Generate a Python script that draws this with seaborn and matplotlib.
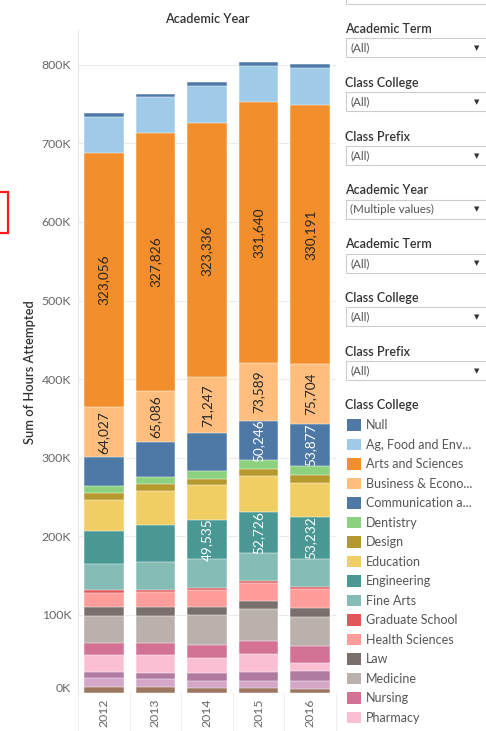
import numpy as np
import pandas as pd
import matplotlib
matplotlib.use("Agg")
import matplotlib.pyplot as plt
from matplotlib.patches import Rectangle
from matplotlib.transforms import ScaledTranslation
import seaborn as sns

# ---------------- data ----------------
years = ["2012", "2013", "2014", "2015", "2016"]

colleges = ["Null", "Ag, Food and Env...", "Arts and Sciences", "Business & Econo...",
            "Communication a...", "Dentistry", "Design", "Education", "Engineering",
            "Fine Arts", "Graduate School", "Health Sciences", "Law", "Medicine",
            "Nursing", "Pharmacy", "Public Health", "Social Work", "Undergraduate Ed..."]

colors = ["#4e79a7", "#a0cbe8", "#f28e2b", "#ffbe7d", "#4e79a7", "#8cd17d", "#b6992d",
          "#f1ce63", "#499894", "#86bcb6", "#e15759", "#ff9d9a", "#79706e", "#bab0ac",
          "#d37295", "#fabfd2", "#b07aa1", "#d4a6c8", "#9d7660"]

null_h = [4300, 3800, 4300, 5100, 5100]
ag_h = [46600, 45800, 47800, 46700, 46700]
arts_h = [323056, 327826, 323336, 331640, 330191]
business_h = [64027, 65086, 71247, 73589, 75704]
communication_h = [36100, 44500, 47500, 50246, 53877]
dentistry_h = [9300, 9700, 11100, 11100, 11500]
design_h = [8900, 8900, 7100, 8500, 9700]
education_h = [39500, 43300, 44500, 45800, 43300]
engineering_h = [41400, 46100, 49535, 52726, 53232]
fine_arts_h = [33700, 36300, 37300, 35600, 36000]
graduate_h = [3400, 2500, 2500, 2200, 2500]
health_h = [17800, 18700, 21300, 22900, 23800]
law_h = [11800, 11800, 10900, 10900, 11800]
medicine_h = [34000, 34000, 37400, 40000, 37300]
nursing_h = [16000, 16000, 16900, 17300, 21300]
pharmacy_h = [21300, 22100, 18700, 22500, 10600]
public_health_h = [7600, 8400, 10200, 11100, 12000]
social_work_h = [11100, 10200, 9700, 9700, 10900]
undergrad_h = [8500, 7800, 6500, 6500, 5200]

series = [null_h, ag_h, arts_h, business_h, communication_h, dentistry_h, design_h,
          education_h, engineering_h, fine_arts_h, graduate_h, health_h, law_h,
          medicine_h, nursing_h, pharmacy_h, public_health_h, social_work_h, undergrad_h]

# which segments carry a value label (college -> years)
labeled = {
    "Arts and Sciences": ["2012", "2013", "2014", "2015", "2016"],
    "Business & Econo...": ["2012", "2013", "2014", "2015", "2016"],
    "Engineering": ["2014", "2015", "2016"],
    "Communication a...": ["2015", "2016"],
}
label_colors = {"Arts and Sciences": "#262626", "Business & Econo...": "#262626",
                "Engineering": "white", "Communication a...": "white"}

y_ticks = [0, 100000, 200000, 300000, 400000, 500000, 600000, 700000, 800000]
y_tick_labels = ["0K", "100K", "200K", "300K", "400K", "500K", "600K", "700K", "800K"]

filters = [("Academic Term", "(All)"), ("Class College", "(All)"), ("Class Prefix", "(All)"),
           ("Academic Year", "(Multiple values)"), ("Academic Term", "(All)"),
           ("Class College", "(All)"), ("Class Prefix", "(All)")]

# ---------------- style ----------------
sns.set_style("white")
plt.rcParams["font.family"] = ["Lato", "DejaVu Sans"]

W, H = 486, 731
fig = plt.figure(figsize=(W / 100, H / 100), dpi=100)

base_y = 693.4
top_y = 30
px_per_k = 0.7857
ax = fig.add_axes([78 / W, (H - base_y) / H, 258 / W, (base_y - top_y) / H], zorder=2)

df = pd.DataFrame({c: s for c, s in zip(colleges, series)}, index=years)
# cumulative from the bottom of the stack (last college at the bottom)
cum = df[colleges[::-1]].cumsum(axis=1)[colleges]

for c, col in zip(colleges, colors):
    sns.barplot(x=years, y=cum[c].values, color=col, saturation=1, width=0.77,
                errorbar=None, edgecolor="white", linewidth=0.35, ax=ax, order=years)

for c, yrs in labeled.items():
    for y in yrs:
        i = years.index(y)
        v = df.loc[y, c]
        mid = cum.loc[y, c] - v / 2
        ax.text(i, mid, f"{v:,}", rotation=90, ha="center", va="center",
                fontsize=9.8, color=label_colors[c], zorder=5)

ax.set_xlim(-0.5, 4.5)
ax.set_ylim(0, (base_y - top_y) / px_per_k * 1000)
ax.set_yticks(y_ticks)
ax.set_yticklabels(y_tick_labels)
ax.set_xticks(range(len(years)))
ax.set_xticklabels(years, rotation=90)
ax.set_xlabel("")
ax.set_ylabel("")
ax.tick_params(axis="y", length=0, pad=5, labelsize=8.8, labelcolor="#666666")
ax.tick_params(axis="x", length=0, pad=4, labelsize=8.8, labelcolor="#666666")
# Tableau nudges the 0K label up
lab0 = ax.get_yticklabels()[0]
lab0.set_transform(lab0.get_transform() + ScaledTranslation(0, 6 / 100, fig.dpi_scale_trans))

ax.yaxis.grid(True, color="#ebebeb", linewidth=0.8)
ax.set_axisbelow(True)
for s in ["top", "right", "bottom"]:
    ax.spines[s].set_visible(False)
ax.spines["left"].set_color("#e6e6e6")
ax.spines["left"].set_linewidth(0.8)

# header dividers under the axis
for b in [-0.5, 0.5, 1.5, 2.5, 3.5, 4.5]:
    ax.plot([b, b], [0, -0.06], transform=ax.get_xaxis_transform(), color="#eeeeee",
            lw=0.8, clip_on=False, zorder=0)

# ---------------- overlay for titles and side panel (pixel coords) ----------------
pax = fig.add_axes([0, 0, 1, 1], zorder=1)
pax.set_xlim(0, W)
pax.set_ylim(H, 0)
pax.axis("off")
pax.patch.set_alpha(0)

pax.text(207, 19, "Academic Year", ha="center", va="center", fontsize=9.2,
         fontweight="semibold", color="#333333")
pax.text(30, 372, "Sum of Hours Attempted", ha="center", va="center", rotation=90,
         fontsize=9.3, fontweight="semibold", color="#333333")

# red marker box at the left edge
pax.add_patch(Rectangle((-10, 192), 17.5, 41, fill=False, edgecolor="#ff1a1a", lw=1.6))

def dropdown(y_top, text=None):
    pax.add_patch(Rectangle((345.5, y_top), 150, 19, facecolor="white",
                            edgecolor="#cccccc", lw=0.8))
    if text is not None:
        pax.text(350, y_top + 9.8, text, ha="left", va="center", fontsize=8.4, color="#555555")
        pax.text(477, y_top + 9.8, "\u25BC", ha="center", va="center", fontsize=5,
                 color="#333333", family=["DejaVu Sans"])

# partially visible widget at the very top (only its lower edge shows)
dropdown(-15)

step = 53.8
for k, (title, val) in enumerate(filters):
    cy = 29 + k * step
    pax.text(345, cy, title, ha="left", va="center", fontsize=9,
             fontweight="semibold", color="#333333")
    dropdown(cy + 9.3, val)

# colour legend (runs off the bottom of the picture, as in the dashboard)
pax.text(345, 405, "Class College", ha="left", va="center", fontsize=9,
         fontweight="semibold", color="#333333")
for k, (c, col) in enumerate(zip(colleges, colors)):
    cy = 425 + k * 19.51
    pax.add_patch(Rectangle((347.3, cy - 5.8), 13.4, 11.6, facecolor=col, edgecolor="none"))
    if cy < H - 6:
        pax.text(366, cy, c, ha="left", va="center", fontsize=9, color="#555555")

fig.savefig("out.png", dpi=100)
